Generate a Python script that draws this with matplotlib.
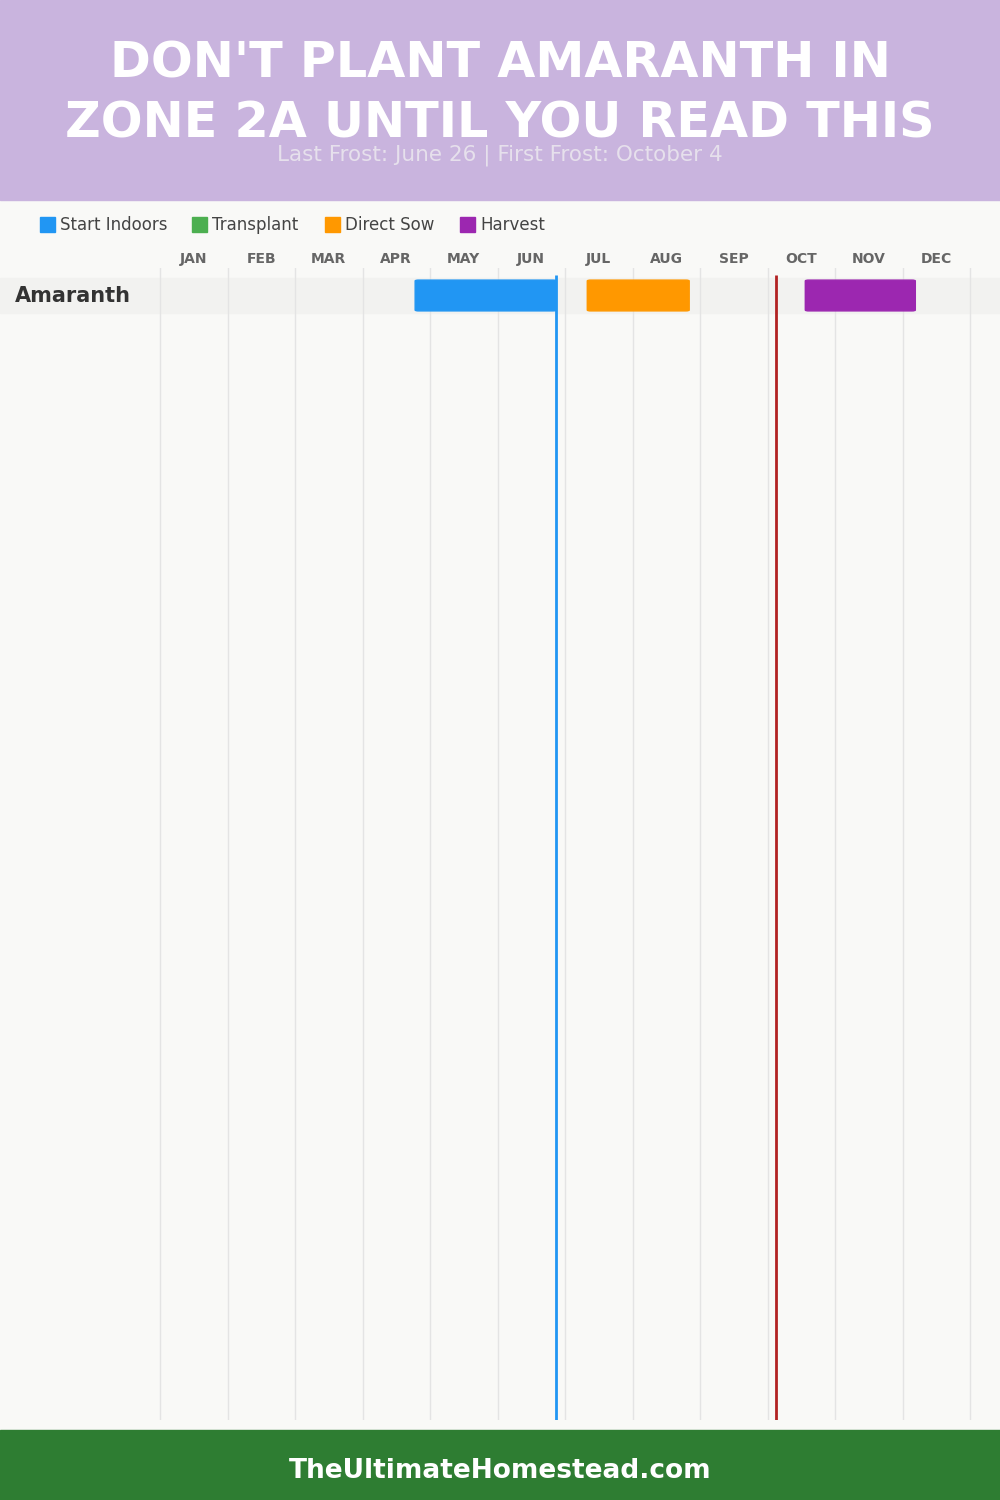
import matplotlib.pyplot as plt
from matplotlib.patches import Rectangle, FancyBboxPatch

# data (months as fractional positions, 0 = start of Jan)
months = ["JAN", "FEB", "MAR", "APR", "MAY", "JUN",
          "JUL", "AUG", "SEP", "OCT", "NOV", "DEC"]
crops = ["Amaranth"]
start_indoors = [(3.78, 5.87)]
transplant = [None]
direct_sow = [(6.33, 7.84)]
harvest = [(9.56, 11.19)]
last_frost = 5.87   # June 26
first_frost = 9.13  # October 4

title_lines = ["DON'T PLANT AMARANTH IN", "ZONE 2A UNTIL YOU READ THIS"]
subtitle = "Last Frost: June 26 | First Frost: October 4"
footer = "TheUltimateHomestead.com"

phases = [("Start Indoors", "#2196F3", start_indoors),
          ("Transplant", "#4CAF50", transplant),
          ("Direct Sow", "#FF9800", direct_sow),
          ("Harvest", "#9C27B0", harvest)]

W, H = 1000, 1500
fig = plt.figure(figsize=(10, 15), dpi=100)
fig.patch.set_facecolor("#F9F9F7")
plt.rcParams["font.family"] = ["DejaVu Sans"]


def fx(px):
    return px / W


def fy(py):
    return 1 - py / H


# header and footer bands
fig.patches.append(Rectangle((0, fy(200)), 1, 200 / H, transform=fig.transFigure,
                             color="#C9B4DE", zorder=0))
fig.patches.append(Rectangle((0, 0), 1, 70 / H, transform=fig.transFigure,
                             color="#2E7D32", zorder=0))
fig.text(0.5, fy(63), title_lines[0], ha="center", va="center", color="white",
         fontsize=35.5, fontweight="heavy")
fig.text(0.5, fy(124), title_lines[1], ha="center", va="center", color="white",
         fontsize=35.5, fontweight="heavy")
fig.text(0.5, fy(155), subtitle, ha="center", va="center", color="#E6E0EC",
         fontsize=15.5)
fig.text(0.5, fy(1471), footer, ha="center", va="center", color="white",
         fontsize=19, fontweight="bold")

# legend
leg_x = [40, 192, 325, 460]
for (name, color, _), x in zip(phases, leg_x):
    fig.patches.append(Rectangle((fx(x), fy(232)), 15 / W, 15 / H,
                                 transform=fig.transFigure, color=color))
    fig.text(fx(x + 20), fy(225), name, ha="left", va="center",
             color="#444444", fontsize=12)

# chart axes: full width, month 0 at x=160px, 67.5px per month
px_per_month = 67.5
row_px = 35
top_px, bot_px = 268, 1420
ax = fig.add_axes([0, fy(bot_px), 1, (bot_px - top_px) / H])
ax.set_xlim(-160 / px_per_month, (W - 160) / px_per_month)
ax.set_ylim((bot_px - 295.5) / row_px, (top_px - 295.5) / row_px)
ax.axis("off")

for m in range(13):
    ax.axvline(m, color="#E4E4E4", lw=1, zorder=1)
for m, name in enumerate(months):
    ax.text(m + 0.5, (259 - 295.5) / row_px, name, ha="center", va="center",
            color="#666666", fontsize=10, fontweight="bold", clip_on=False)

xmin, xmax = ax.get_xlim()
for i, crop in enumerate(crops):
    ax.add_patch(Rectangle((xmin, i - 0.5), xmax - xmin, 1, color="#F2F2F0", zorder=0.5))
    ax.text(xmin + 15 / px_per_month, i, crop, ha="left", va="center",
            color="#333333", fontsize=15, fontweight="bold")
    for name, color, spans in phases:
        span = spans[i]
        if span is None:
            continue
        ax.add_patch(FancyBboxPatch((span[0], i - 0.44), span[1] - span[0], 0.88,
                                    boxstyle="round,pad=0,rounding_size=0.05",
                                    mutation_aspect=0.5, color=color, zorder=2))

frost_top = (275 - 295.5) / row_px
frost_bot = ax.get_ylim()[0]
ax.vlines(last_frost, frost_top, frost_bot, color="#2196F3", lw=2, zorder=3)
ax.vlines(first_frost, frost_top, frost_bot, color="#B22222", lw=2, zorder=3)

fig.savefig("out.png", dpi=100, facecolor=fig.get_facecolor())
